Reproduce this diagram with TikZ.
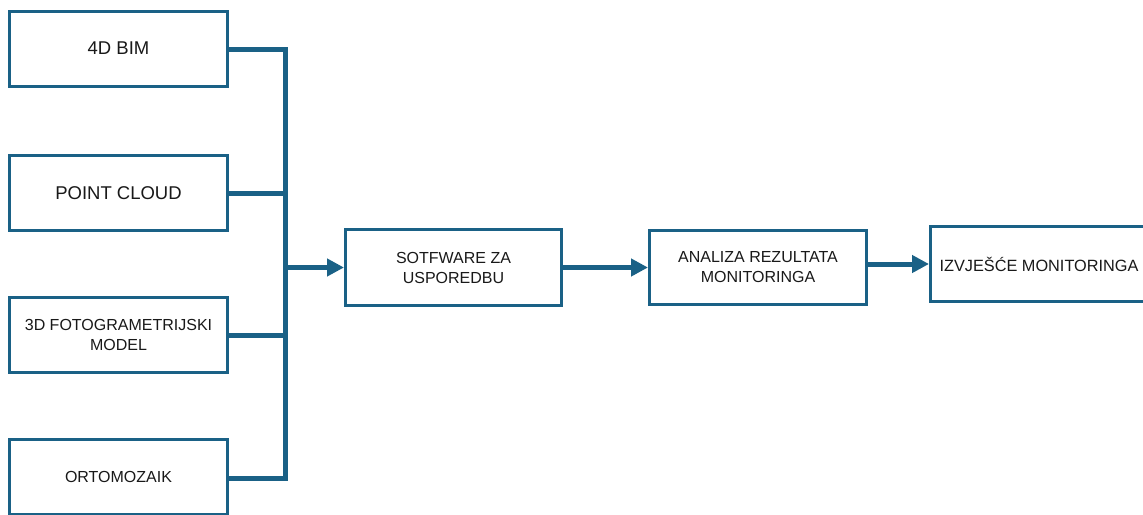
\documentclass[tikz,border=0pt]{standalone}
\usepackage{fontspec}
\setmainfont{Liberation Sans}
\usetikzlibrary{arrows.meta}
\definecolor{flow}{HTML}{1A6186}
\tikzset{
  box/.style={draw=flow, line width=3pt, fill=white, minimum width=218pt, minimum height=75pt, inner sep=0pt, align=center, text=black!90},
  bigtxt/.style={font=\fontsize{18.5}{22}\selectfont},
  smalltxt/.style={font=\fontsize{16}{20}\selectfont},
  conn/.style={draw=flow, line width=5pt},
  arr/.style={draw=flow, line width=5pt, -{Triangle[length=17pt,width=17pt]}}
}
\begin{document}
\begin{tikzpicture}[x=1pt,y=-1pt]
\clip (0,0) rectangle (1143,514);
\useasboundingbox (0,0) rectangle (1143,514);
\node[box,bigtxt] (bim) at (118.5,48.5) {4D BIM};
\node[box,bigtxt] (pc) at (118.5,193) {POINT CLOUD};
\node[box,smalltxt] (foto) at (118.5,335) {3D FOTOGRAMETRIJSKI\\MODEL};
\node[box,smalltxt] (orto) at (118.5,476.5) {ORTOMOZAIK};
\node[box,smalltxt, minimum width=216pt, minimum height=76pt] (sw) at (453.5,267.5) {SOTFWARE ZA\\USPOREDBU};
\node[box,smalltxt, minimum width=217pt, minimum height=74pt] (an) at (758,267.5) {ANALIZA REZULTATA\\MONITORINGA};
\node[box,font=\fontsize{16.3}{20}\selectfont, minimum width=217pt, minimum height=75pt] (iz) at (1039,264) {IZVJEŠĆE MONITORINGA};
\coordinate (bt) at (285.5,49.5);
\coordinate (bb) at (285.5,478);
\draw[conn] (bim.east |- bt) -- (bt) -- (bb) -- (orto.east |- bb);
\draw[conn] (pc.east) -- (pc.east -| bt);
\draw[conn] (foto.east) -- (foto.east -| bt);
\draw[arr] (sw.west -| bt) -- (sw.west);
\draw[arr] (sw.east) -- (an.west);
\draw[arr] (an.east |- iz.west) -- (iz.west);
\end{tikzpicture}
\end{document}
